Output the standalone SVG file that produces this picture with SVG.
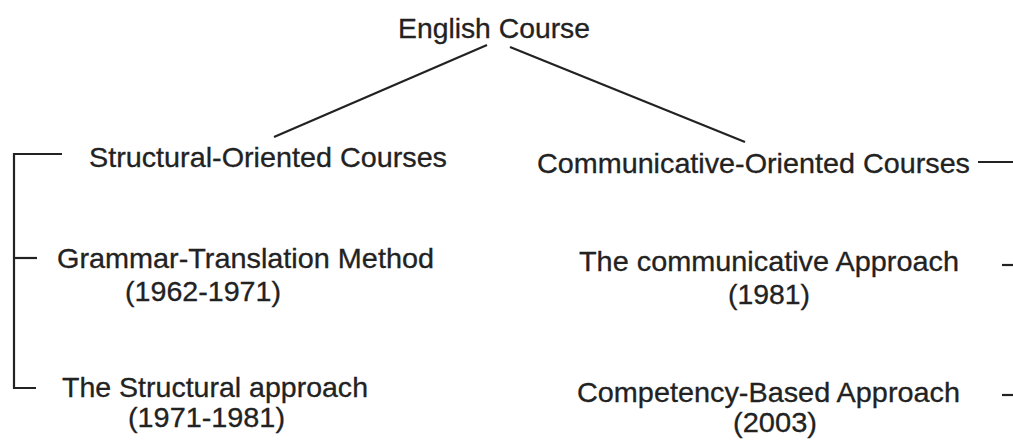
<svg xmlns="http://www.w3.org/2000/svg" width="1013" height="442" viewBox="0 0 1013 442">
  <style>
    text { font-family: "Liberation Sans", Arial, sans-serif; font-size: 28px; fill: #222; stroke: #222; stroke-width: 0.3; }
    .ln { stroke: #222; stroke-width: 2.2; fill: none; stroke-linecap: butt; }
  </style>
  <rect width="1013" height="442" fill="#fff"/>

  <g id="connectors">
    <!-- root to the two branches -->
    <line class="ln" x1="487" y1="45" x2="274" y2="137"/>
    <line class="ln" x1="510" y1="47" x2="745" y2="142"/>
    <!-- left bracket -->
    <polyline class="ln" points="62,154 14,154 14,388 36,388"/>
    <line class="ln" x1="14" y1="258" x2="37" y2="258"/>
    <!-- right ticks -->
    <line class="ln" x1="978" y1="162" x2="1013" y2="162"/>
    <line class="ln" x1="1002" y1="265" x2="1013" y2="265"/>
    <line class="ln" x1="1002" y1="395" x2="1013" y2="395"/>
  </g>

  <g id="root">
    <text x="398" y="38" textLength="192" lengthAdjust="spacingAndGlyphs">English Course</text>
  </g>

  <g id="structural">
    <text x="89" y="167" textLength="358" lengthAdjust="spacingAndGlyphs">Structural-Oriented Courses</text>
  </g>

  <g id="communicative">
    <text x="537" y="173" textLength="433" lengthAdjust="spacingAndGlyphs">Communicative-Oriented Courses</text>
  </g>

  <g id="grammar-translation">
    <text x="57" y="268" textLength="377" lengthAdjust="spacingAndGlyphs">Grammar-Translation Method</text>
    <text x="125" y="301" textLength="156" lengthAdjust="spacingAndGlyphs">(1962-1971)</text>
  </g>

  <g id="structural-approach">
    <text x="62" y="397" textLength="306" lengthAdjust="spacingAndGlyphs">The Structural approach</text>
    <text x="128" y="427" textLength="157" lengthAdjust="spacingAndGlyphs">(1971-1981)</text>
  </g>

  <g id="communicative-approach">
    <text x="579" y="271" textLength="380" lengthAdjust="spacingAndGlyphs">The communicative Approach</text>
    <text x="728" y="304" textLength="82" lengthAdjust="spacingAndGlyphs">(1981)</text>
  </g>

  <g id="competency-based">
    <text x="577" y="402" textLength="383" lengthAdjust="spacingAndGlyphs">Competency-Based Approach</text>
    <text x="733" y="432" textLength="84" lengthAdjust="spacingAndGlyphs">(2003)</text>
  </g>
</svg>
